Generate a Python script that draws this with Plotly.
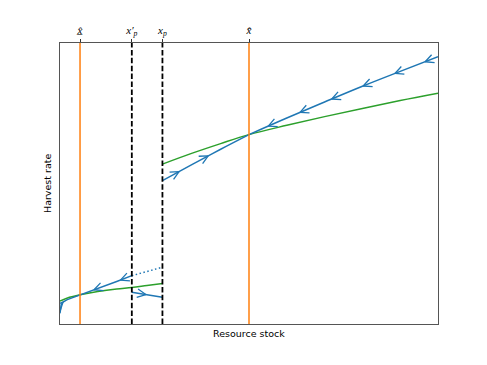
import numpy as np
import plotly.graph_objects as go

# thresholds / equilibria on the stock axis
x_low_eq = 0.53
x_p_prime = 1.9
x_p = 2.71
x_high_eq = 5.0

tick_vals = [x_low_eq, x_p_prime, x_p, x_high_eq]
tick_text = ["<i>x\u0332\u0302</i>", "<i>x\u2032<sub>p</sub></i>",
             "<i>x<sub>p</sub></i>", "<i>x\u0304\u0302</i>"]

# harvest curve (green), below and above x_p
green_low_x = [0.0, 0.25, 0.53, 1.0, 1.5, 1.9, 2.3, 2.71]
green_low_y = [0.82, 0.95, 1.04, 1.16, 1.25, 1.30, 1.37, 1.44]
green_high_x = [2.71, 3.5, 4.25, 5.0, 6.0, 7.0, 8.0, 9.0, 10.0]
green_high_y = [5.69, 6.08, 6.42, 6.74, 7.07, 7.38, 7.67, 7.95, 8.21]

# trajectories (blue)
path_right_x = [5.0, 6.0, 7.0, 8.0, 9.0, 10.0]
path_right_y = [6.74, 7.33, 7.90, 8.46, 8.99, 9.51]
path_mid_x = [2.71, 3.5, 4.25, 5.0]
path_mid_y = [5.10, 5.68, 6.22, 6.74]
path_low_x = [0.0, 0.01, 0.03, 0.08, 0.18, 0.3, 0.53, 1.0, 1.5, 1.9]
path_low_y = [0.38, 0.55, 0.68, 0.78, 0.86, 0.92, 1.03, 1.27, 1.51, 1.72]
path_dot_x = [1.9, 2.3, 2.71]
path_dot_y = [1.72, 1.88, 2.02]
path_short_x = [1.9, 2.3, 2.71]
path_short_y = [1.13, 1.04, 0.95]

# arrow positions along each trajectory (+1 = moving right, -1 = left)
arrows = [
    (path_right_x, path_right_y, [9.66, 8.86, 8.02, 7.19, 6.35, 5.51], -1),
    (path_mid_x, path_mid_y, [3.15, 3.92], 1),
    (path_low_x, path_low_y, [0.9, 1.6], -1),
    (path_low_x, path_low_y, [0.08], 1),
    (path_short_x, path_short_y, [2.27], 1),
]

BLUE = "#1f77b4"
ORANGE = "#ff7f0e"
GREEN = "#2ca02c"

# pixel scale of the plot area (378 x 281 px for a 10 x 10 range)
SX, SY = 37.8, 28.1


def chevrons(px, py, xs, sign, arm=9.5, half=np.radians(26)):
    X, Y = [], []
    for x0 in xs:
        y0 = np.interp(x0, px, py)
        h = 0.01
        dy = (np.interp(x0 + h, px, py) - np.interp(x0 - h, px, py)) * SY
        dx = 2 * h * SX
        n = np.hypot(dx, dy)
        dx, dy = sign * dx / n, sign * dy / n
        ends = []
        for a in (half, -half):
            bx = -dx * np.cos(a) + dy * np.sin(a)
            by = -dx * np.sin(a) - dy * np.cos(a)
            ends.append((x0 + arm * bx / SX, y0 + arm * by / SY))
        X += [ends[0][0], x0, ends[1][0], None]
        Y += [ends[0][1], y0, ends[1][1], None]
    return X, Y


fig = go.Figure()

# vertical reference lines (on the top axis, same range)
for v, col, dash, w in [(x_low_eq, ORANGE, "solid", 1.5), (x_high_eq, ORANGE, "solid", 1.5),
                        (x_p_prime, "black", "5.5px,2.4px", 1.8), (x_p, "black", "5.5px,2.4px", 1.8)]:
    fig.add_trace(go.Scatter(x=[v, v], y=[0, 10], mode="lines", xaxis="x2",
                             line=dict(color=col, width=w, dash=dash),
                             showlegend=False, hoverinfo="skip"))

for gx, gy in [(green_low_x, green_low_y), (green_high_x, green_high_y)]:
    fig.add_trace(go.Scatter(x=gx, y=gy, mode="lines", line=dict(color=GREEN, width=1.5, shape="spline"),
                             showlegend=False))

for bx, by in [(path_right_x, path_right_y), (path_mid_x, path_mid_y), (path_short_x, path_short_y)]:
    fig.add_trace(go.Scatter(x=bx, y=by, mode="lines", line=dict(color=BLUE, width=1.5, shape="spline"),
                             showlegend=False))
fig.add_trace(go.Scatter(x=path_low_x, y=path_low_y, mode="lines", line=dict(color=BLUE, width=1.5),
                         showlegend=False))

fig.add_trace(go.Scatter(x=path_dot_x, y=path_dot_y, mode="lines",
                         line=dict(color=BLUE, width=1.5, dash="1.5px,2.5px"), showlegend=False))

ax_all, ay_all = [], []
for px, py, xs, sgn in arrows:
    cx, cy = chevrons(px, py, xs, sgn)
    ax_all += cx
    ay_all += cy
fig.add_trace(go.Scatter(x=ax_all, y=ay_all, mode="lines", line=dict(color=BLUE, width=1.3),
                         showlegend=False, hoverinfo="skip"))

frame = dict(showgrid=False, zeroline=False, showline=True, mirror=True,
             linecolor="#555555", linewidth=1.2, range=[0, 10])

# the page body adds an 8px offset, so the margins are shifted to compensate
fig.update_layout(
    width=487, height=365,
    margin=dict(l=52, r=57, t=35, b=49, autoexpand=False),
    plot_bgcolor="white", paper_bgcolor="white",
    xaxis=dict(**frame, showticklabels=False, ticks=""),
    yaxis=dict(**frame, showticklabels=False, ticks=""),
    xaxis2=dict(overlaying="x", side="top", range=[0, 10], showgrid=False, zeroline=False,
                showline=False, tickvals=tick_vals, ticktext=tick_text, ticks="outside",
                ticklen=3.5, tickcolor="#333333", tickwidth=1, automargin=False,
                tickfont=dict(family="Liberation Serif", size=11, color="black")),
    annotations=[
        dict(text="Resource stock", x=0.5, y=0, xref="paper", yref="paper",
             xanchor="center", yanchor="top", yshift=-2, showarrow=False,
             font=dict(family="DejaVu Sans", size=9.5, color="black")),
        dict(text="Harvest rate", x=0, y=0.5, xref="paper", yref="paper", textangle=-90,
             xanchor="right", yanchor="middle", xshift=-5, showarrow=False,
             font=dict(family="DejaVu Sans", size=9.5, color="black")),
    ],
)

fig.write_html("out.html")
